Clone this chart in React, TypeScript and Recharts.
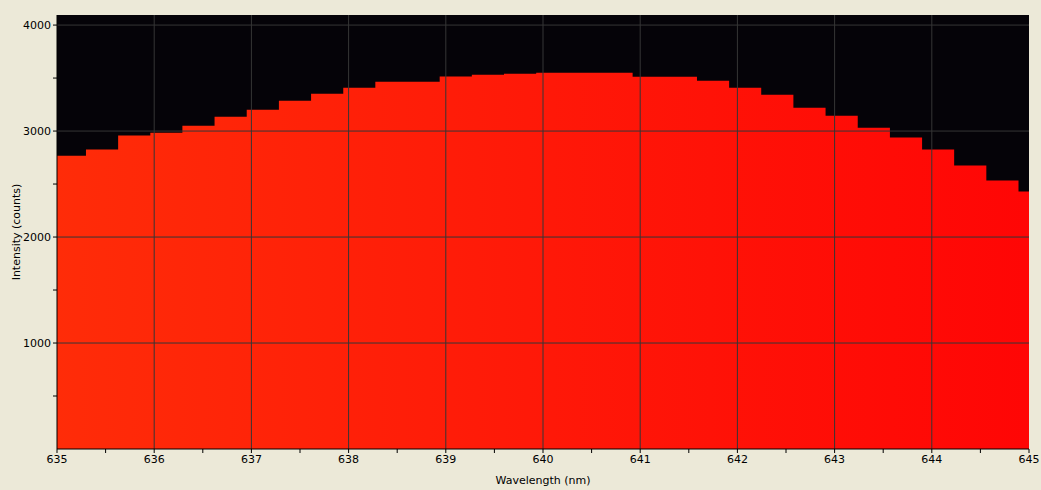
import { AreaChart, Area, XAxis, YAxis, CartesianGrid, ReferenceLine } from 'recharts';

// left edge of each detector bin (nm); last entry closes the final bin
const wavelengths = [
  634.967, 635.298, 635.629, 635.96, 636.29, 636.621, 636.952, 637.283,
  637.614, 637.945, 638.275, 638.606, 638.937, 639.268, 639.599, 639.93,
  640.26, 640.591, 640.922, 641.253, 641.584, 641.915, 642.245, 642.576,
  642.907, 643.238, 643.569, 643.9, 644.23, 644.561, 644.892, 645.223,
];

const counts = [
  2768, 2825, 2957, 2985, 3051, 3136, 3202, 3286, 3352, 3409, 3465, 3465,
  3515, 3531, 3540, 3550, 3550, 3550, 3512, 3512, 3475, 3409, 3343, 3220,
  3145, 3032, 2938, 2825, 2674, 2533, 2429, 2429,
];

const xTicks = [635, 635.5, 636, 636.5, 637, 637.5, 638, 638.5, 639, 639.5, 640, 640.5, 641, 641.5, 642, 642.5, 643, 643.5, 644, 644.5, 645];
const yTicks = [500, 1000, 1500, 2000, 2500, 3000, 3500, 4000];
const xGrid = [636, 637, 638, 639, 640, 641, 642, 643, 644];
const yGrid = [1000, 2000, 3000, 4000];

const data = wavelengths.map((wl, i) => ({ wl, counts: counts[i] }));

const font = { fontFamily: '"DejaVu Sans", sans-serif', fontSize: 11, fill: '#000' };

export default function App() {
  return (
    <div style={{ position: 'absolute', left: 0, top: 0, width: 1041, height: 490, background: '#ECE9D8' }}>
      <AreaChart width={1041} height={490} data={data} margin={{ top: 15, right: 12, left: 0, bottom: 0 }}>
        <defs>
          <linearGradient id="specFill" x1="0" y1="0" x2="1" y2="0">
            <stop offset="0%" stopColor="#FF2C08" />
            <stop offset="50%" stopColor="#FF1808" />
            <stop offset="100%" stopColor="#FF0505" />
          </linearGradient>
        </defs>
        <CartesianGrid fill="#050308" horizontal={false} vertical={false} />
        <XAxis
          type="number"
          dataKey="wl"
          domain={[635, 645]}
          allowDataOverflow
          ticks={xTicks}
          interval={0}
          height={41}
          tickSize={4}
          stroke="#000"
          tick={font}
          tickFormatter={(v: number) => (Number.isInteger(v) ? String(v) : '')}
          label={{ value: 'Wavelength (nm)', position: 'insideBottom', offset: 6, style: font }}
        />
        <YAxis
          type="number"
          domain={[0, 4095]}
          allowDataOverflow
          ticks={yTicks}
          interval={0}
          width={57}
          tickSize={4}
          stroke="#000"
          tick={font}
          tickFormatter={(v: number) => (v % 1000 === 0 ? String(v) : '')}
          label={{ value: 'Intensity (counts)', angle: -90, position: 'insideLeft', offset: 16, style: { ...font, textAnchor: 'middle' } }}
        />
        <Area
          type="stepAfter"
          dataKey="counts"
          stroke="none"
          fill="url(#specFill)"
          fillOpacity={1}
          isAnimationActive={false}
        />
        {xGrid.map((x) => (
          <ReferenceLine key={'x' + x} x={x} stroke="#363636" strokeWidth={1} />
        ))}
        {yGrid.map((y) => (
          <ReferenceLine key={'y' + y} y={y} stroke="#363636" strokeWidth={1} />
        ))}
      </AreaChart>
    </div>
  );
}
